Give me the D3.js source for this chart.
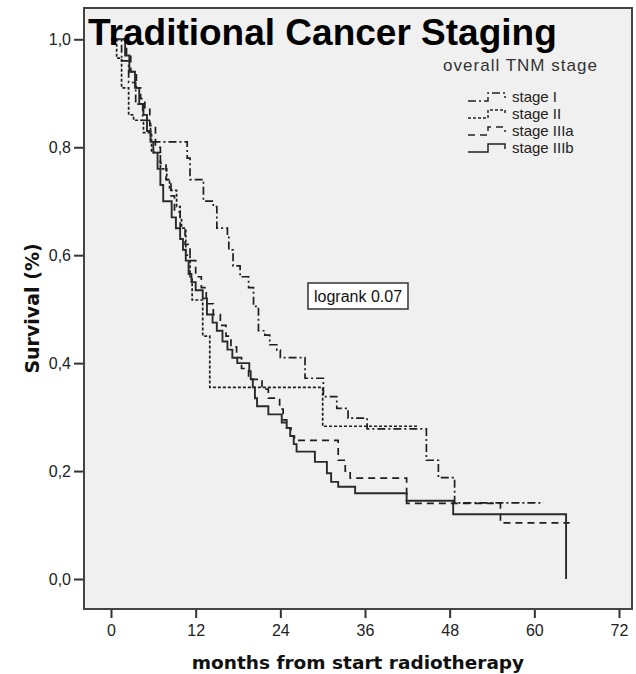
<!DOCTYPE html>
<html>
<head>
<meta charset="utf-8">
<script src="https://cdn.jsdelivr.net/npm/d3@7"></script>
<style>
  body { margin: 0; background: #fff; }
  text { font-family: 'Liberation Sans', Arial, sans-serif; }
</style>
</head>
<body>
<div id="container"></div>
<script>
const w = 636,
  h = 674;

// data: step times (months) and survival after each step
const stageNames = ['stage I', 'stage II', 'stage IIIa', 'stage IIIb'];

const stageITime = [0, 1.5, 2.5, 3.5, 4.5, 5.6, 10.8, 11.2, 13.1, 14.5, 15.0, 16.5, 16.7, 17.3, 18.3, 19.5, 20.2, 20.9, 21.8, 22.5, 23.5, 24.0, 27.5, 30.1, 32.0, 33.6, 36.3, 44.7, 46.4, 48.7, 61.3];
const stageISurv = [1.0, 0.96, 0.92, 0.88, 0.85, 0.81, 0.78, 0.74, 0.70, 0.69, 0.65, 0.635, 0.61, 0.58, 0.56, 0.54, 0.505, 0.46, 0.452, 0.434, 0.424, 0.41, 0.372, 0.338, 0.316, 0.298, 0.278, 0.22, 0.188, 0.141, 0.141];

const stageIITime = [0, 0.8, 1.5, 2.5, 3.2, 4.6, 5.75, 7.0, 7.9, 8.3, 9.3, 9.8, 10.0, 10.6, 11.2, 11.5, 13.0, 14.0, 30.0, 43.4];
const stageIISurv = [1.0, 0.965, 0.91, 0.86, 0.85, 0.827, 0.79, 0.76, 0.74, 0.72, 0.69, 0.67, 0.65, 0.6, 0.56, 0.517, 0.45, 0.355, 0.283, 0.283];

const stageIIIaTime = [0, 2.2, 2.8, 3.6, 4.2, 4.8, 5.5, 6.3, 7.0, 7.8, 8.5, 9.0, 9.8, 10.5, 11.2, 12.0, 12.8, 13.5, 14.5, 15.5, 16.3, 17.0, 17.8, 18.5, 19.5, 21.4, 22.3, 23.9, 24.4, 24.9, 25.5, 26.0, 32.2, 33.2, 33.9, 41.9, 55.2, 65.0];
const stageIIIaSurv = [1.0, 0.97, 0.94, 0.91, 0.89, 0.87, 0.84, 0.8, 0.77, 0.74, 0.71, 0.68, 0.65, 0.62, 0.59, 0.56, 0.54, 0.51, 0.49, 0.47, 0.45, 0.43, 0.41, 0.39, 0.37, 0.352, 0.335, 0.315, 0.295, 0.28, 0.265, 0.257, 0.22, 0.2, 0.187, 0.14, 0.104, 0.104];

const stageIIIbTime = [0, 2.0, 2.6, 3.4, 4.0, 4.6, 5.1, 5.6, 6.0, 6.6, 7.0, 7.4, 8.6, 9.2, 9.8, 10.2, 10.6, 11.0, 11.4, 12.0, 13.0, 13.6, 14.4, 15.0, 15.8, 16.5, 17.2, 17.9, 19.6, 19.8, 20.1, 20.4, 20.7, 22.3, 24.2, 24.9, 25.4, 25.9, 26.3, 28.9, 30.6, 31.2, 32.2, 34.6, 41.9, 48.5, 64.5];
const stageIIIbSurv = [1.0, 0.97, 0.94, 0.91, 0.88, 0.86, 0.83, 0.81, 0.79, 0.76, 0.73, 0.7, 0.67, 0.65, 0.63, 0.61, 0.59, 0.565, 0.55, 0.535, 0.52, 0.49, 0.475, 0.46, 0.44, 0.425, 0.41, 0.4, 0.385, 0.37, 0.355, 0.335, 0.32, 0.305, 0.29, 0.28, 0.265, 0.25, 0.236, 0.217, 0.196, 0.18, 0.171, 0.159, 0.145, 0.12, 0.0];

const xTicks = [0, 12, 24, 36, 48, 60, 72];
const yTicks = [0, 0.2, 0.4, 0.6, 0.8, 1.0];

const series = [
  { name: stageNames[0], time: stageITime, surv: stageISurv, dash: '8,3,2,3' },
  { name: stageNames[1], time: stageIITime, surv: stageIISurv, dash: '3,2' },
  { name: stageNames[2], time: stageIIIaTime, surv: stageIIIaSurv, dash: '7,5' },
  { name: stageNames[3], time: stageIIIbTime, surv: stageIIIbSurv, dash: null }
];

const frame = { left: 84, top: 8, right: 632, bottom: 609 };

const svg = d3.select('#container').append('svg').attr('width', w).attr('height', h);

svg
  .append('rect')
  .attr('x', frame.left)
  .attr('y', frame.top)
  .attr('width', frame.right - frame.left)
  .attr('height', frame.bottom - frame.top)
  .attr('fill', '#f0f0f0');

const xScale = d3.scaleLinear().domain([0, 72]).range([111, 619]);
const yScale = d3.scaleLinear().domain([0, 1]).range([579, 39.3]);

const xAxis = d3.axisBottom(xScale).tickValues(xTicks).tickSize(9).tickPadding(7).tickSizeOuter(0);
const yAxis = d3
  .axisLeft(yScale)
  .tickValues(yTicks)
  .tickSize(10)
  .tickPadding(3)
  .tickSizeOuter(0)
  .tickFormat((d) => d.toFixed(1).replace('.', ','));

const gx = svg
  .append('g')
  .attr('transform', 'translate(0, ' + frame.bottom + ')')
  .call(xAxis);
const gy = svg
  .append('g')
  .attr('transform', 'translate(' + frame.left + ', 0)')
  .call(yAxis);

[gx, gy].forEach((g) => {
  g.select('.domain').remove();
  g.selectAll('.tick line').attr('stroke', '#333').attr('stroke-width', 2);
  g.selectAll('.tick text')
    .attr('fill', '#222')
    .style('font-size', '16px')
    .style('font-family', "'Liberation Sans', Arial, sans-serif");
});

const line = d3
  .line()
  .x((d) => xScale(d[0]))
  .y((d) => yScale(d[1]))
  .curve(d3.curveStepAfter);

series.forEach((s) => {
  const pts = s.time.map((t, i) => [t, s.surv[i]]);
  svg
    .append('path')
    .attr('d', line(pts))
    .attr('fill', 'none')
    .attr('stroke', s.dash ? '#1e1e1e' : '#2a2a2a')
    .attr('stroke-width', s.dash ? 1.7 : 1.9)
    .attr('stroke-dasharray', s.dash);
});

// frame
svg
  .append('rect')
  .attr('x', frame.left)
  .attr('y', frame.top)
  .attr('width', frame.right - frame.left)
  .attr('height', frame.bottom - frame.top)
  .attr('fill', 'none')
  .attr('stroke', '#444')
  .attr('stroke-width', 2);

// logrank box
svg
  .append('rect')
  .attr('x', 308)
  .attr('y', 283)
  .attr('width', 100)
  .attr('height', 26)
  .attr('fill', '#fff')
  .attr('stroke', '#333')
  .attr('stroke-width', 1.5);
svg
  .append('text')
  .text('logrank 0.07')
  .attr('x', 358)
  .attr('y', 301.5)
  .attr('text-anchor', 'middle')
  .attr('fill', '#111')
  .style('font-size', '16px');

// legend
const legend = svg.append('g').attr('id', 'legend');
legend
  .append('text')
  .text('overall TNM stage')
  .attr('x', 443)
  .attr('y', 71)
  .attr('textLength', 154)
  .attr('lengthAdjust', 'spacing')
  .attr('fill', '#333')
  .style('font-size', '17px');

series.forEach((s, i) => {
  const cy = 97 + i * 17;
  legend
    .append('path')
    .attr('d', 'M468,' + (cy + 4) + 'H488V' + (cy - 4) + 'H505V' + (cy + 1))
    .attr('fill', 'none')
    .attr('stroke', '#222')
    .attr('stroke-width', 1.5)
    .attr('stroke-dasharray', s.dash);
  legend
    .append('text')
    .text(s.name)
    .attr('x', 512)
    .attr('y', cy + 5)
    .attr('fill', '#222')
    .style('font-size', '15px');
});

// titles
svg
  .append('text')
  .text('Traditional Cancer Staging')
  .attr('x', 88)
  .attr('y', 45)
  .attr('fill', '#000')
  .style('font-size', '37px')
  .style('font-weight', 'bold');

svg
  .append('text')
  .text('months from start radiotherapy')
  .attr('x', (frame.left + frame.right) / 2)
  .attr('y', 669)
  .attr('text-anchor', 'middle')
  .attr('fill', '#111')
  .style('font-family', "'DejaVu Sans', sans-serif")
  .style('font-weight', 'bold')
  .style('font-size', '18.5px');

svg
  .append('text')
  .text('Survival (%)')
  .attr('transform', 'translate(39, ' + (frame.top + frame.bottom) / 2 + ') rotate(-90)')
  .attr('text-anchor', 'middle')
  .attr('fill', '#111')
  .style('font-family', "'DejaVu Sans', sans-serif")
  .style('font-weight', 'bold')
  .style('font-size', '19px');
</script>
</body>
</html>
